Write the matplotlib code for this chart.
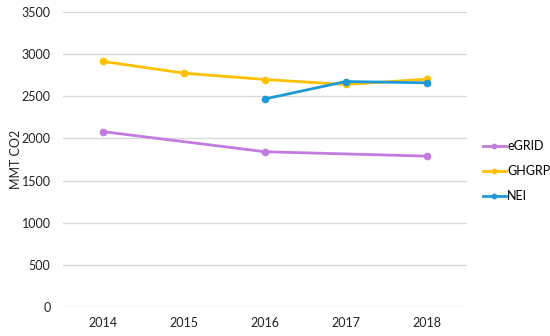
import matplotlib
matplotlib.use('Agg')
import matplotlib.pyplot as plt
import numpy as np

years = ['2014', '2015', '2016', '2017', '2018']
egrid = [2080, np.nan, 1842, np.nan, 1790]
ghgrp = [2913, 2774, 2699, 2640, 2703]
nei = [np.nan, np.nan, 2469, 2675, 2660]

plt.rcParams['font.family'] = ['Lato', 'DejaVu Sans']

fig = plt.figure(figsize=(5.5, 3.36), dpi=100)
ax = fig.add_axes([63/550, 1 - 307/336, 404/550, 295/336])

x = np.arange(len(years))
series = [('eGRID', egrid, '#C27BDE'), ('GHGRP', ghgrp, '#FFC000'), ('NEI', nei, '#1E9AD9')]
for name, vals, col in series:
    v = np.array(vals, dtype=float)
    m = ~np.isnan(v)
    ax.plot(x[m], v[m], color=col, lw=2, marker='o', ms=4.5, label=name, zorder=3)

ax.set_xlim(-0.5, 4.5)
ax.set_ylim(0, 3500)
ax.set_yticks(range(0, 3501, 500))
ax.set_xticks(x)
ax.set_xticklabels(years)
ax.grid(axis='y', color='#D9D9D9', lw=1)
ax.set_axisbelow(True)
for s in ax.spines.values():
    s.set_visible(False)
ax.tick_params(length=0, labelsize=9, colors='#222222')
ax.tick_params(axis='x', pad=7)
ax.tick_params(axis='y', pad=9)
ax.set_ylabel('MMT CO2', fontsize=9, color='#222222', labelpad=0)

ax.legend(loc='upper left', bbox_to_anchor=(483/550, 1 - 140/336), bbox_transform=fig.transFigure,
          frameon=False, fontsize=9, handlelength=1.8, handletextpad=0.15, labelspacing=1.05,
          borderpad=0, borderaxespad=0, markerscale=0.7)

fig.savefig('out.png', dpi=100)
